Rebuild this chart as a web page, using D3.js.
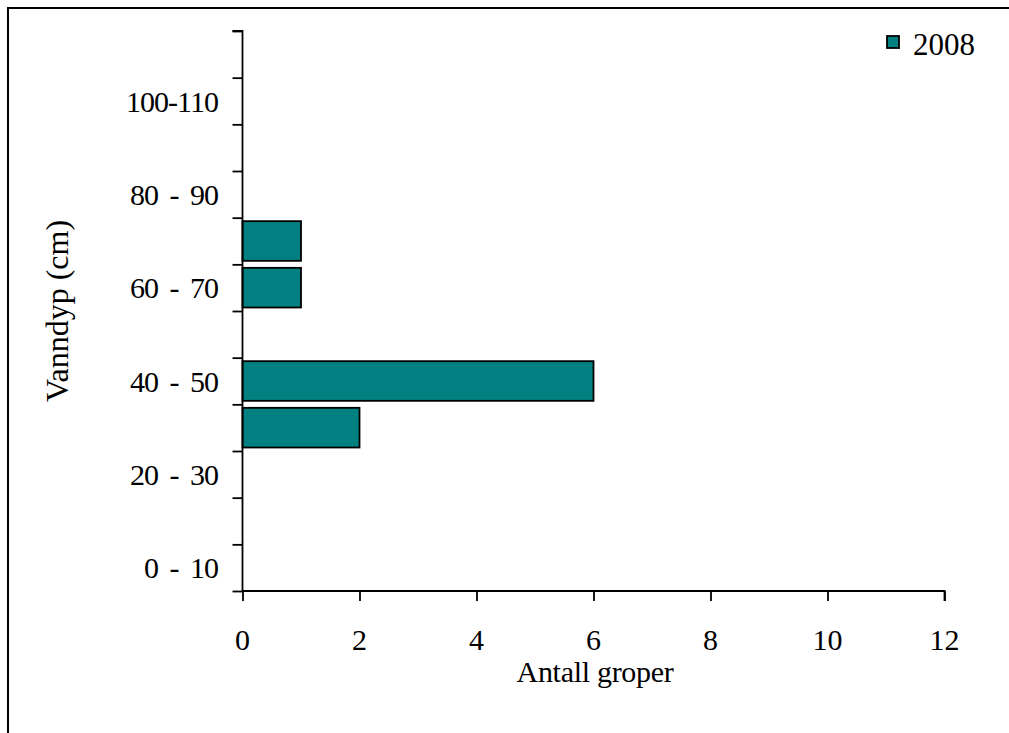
<!DOCTYPE html>
<html>
<head>
<meta charset="utf-8">
<script src="https://cdn.jsdelivr.net/npm/d3@7/dist/d3.min.js"></script>
<style>
  html, body { margin: 0; padding: 0; background: #fff; }
  svg { display: block; }
  text { font-family: "Liberation Serif", "Times New Roman", serif; fill: #000; }
</style>
</head>
<body>
<svg id="chart" width="1009" height="733"></svg>
<script>
const categories = ["0 - 10", "10 - 20", "20 - 30", "30 - 40", "40 - 50", "50 - 60",
                    "60 - 70", "70 - 80", "80 - 90", "90 - 100", "100-110", "110-120"];
const shownLabels = ["0 - 10", "20 - 30", "40 - 50", "60 - 70", "80 - 90", "100-110"];
const values2008 = [0, 0, 0, 2, 6, 0, 1, 1, 0, 0, 0, 0];
const xTicks = [0, 2, 4, 6, 8, 10, 12];
const seriesName = "2008";
const xTitle = "Antall groper";
const yTitle = "Vanndyp (cm)";

const svg = d3.select("#chart");
const pLeft = 242.5, pRight = 944.5, pTop = 31, pBottom = 591;

// outer frame
svg.append("rect").attr("x", 8).attr("y", 8).attr("width", 1020).attr("height", 740)
  .attr("fill", "none").attr("stroke", "#000").attr("stroke-width", 2);

const x = d3.scaleLinear().domain([0, 12]).range([pLeft, pRight]);
const y = d3.scaleBand().domain(categories).range([pBottom, pTop]).paddingInner(0.15).paddingOuter(0.075);

// bars
svg.append("g").selectAll("rect").data(categories.map((c, i) => ({c, v: values2008[i]})).filter(d => d.v > 0))
  .join("rect")
  .attr("x", x(0))
  .attr("y", d => y(d.c))
  .attr("width", d => x(d.v) - x(0))
  .attr("height", y.bandwidth())
  .attr("fill", "#008080")
  .attr("stroke", "#000")
  .attr("stroke-width", 1.8);

// y axis: ticks at band boundaries
const yLin = d3.scaleLinear().domain([0, categories.length]).range([pBottom, pTop]);
const yAxis = d3.axisLeft(yLin).tickValues(d3.range(0, categories.length + 1))
  .tickSize(10).tickFormat("");
const gy = svg.append("g").attr("transform", `translate(${pLeft},0)`).call(yAxis);
gy.select(".domain").attr("stroke", "#000").attr("stroke-width", 1.8).attr("d", `M-10,${pTop}H0V${pBottom}`);
gy.selectAll(".tick line").attr("stroke", "#000").attr("stroke-width", 1.8);

// y labels (every other category)
svg.append("g").selectAll("text").data(shownLabels).join("text")
  .attr("x", 218)
  .attr("y", d => y(d) + y.bandwidth() / 2)
  .attr("dy", "0.35em")
  .attr("text-anchor", "end")
  .attr("font-size", 30)
  .style("letter-spacing", "-1px")
  .style("word-spacing", "5px")
  .text(d => d);

// x axis
const xAxis = d3.axisBottom(x).tickValues(xTicks).tickSize(10).tickFormat("");
const gx = svg.append("g").attr("transform", `translate(0,${pBottom})`).call(xAxis);
gx.select(".domain").attr("stroke", "#000").attr("stroke-width", 1.8).attr("d", `M${pLeft},0H${pRight}V10`);
gx.selectAll(".tick line").attr("stroke", "#000").attr("stroke-width", 1.8);

svg.append("g").selectAll("text").data(xTicks).join("text")
  .attr("x", d => x(d))
  .attr("y", 650)
  .attr("text-anchor", "middle")
  .attr("font-size", 30)
  .text(d => d);

// axis titles
svg.append("text").attr("x", 595).attr("y", 682).attr("text-anchor", "middle")
  .attr("font-size", 30).style("letter-spacing", "-0.3px").text(xTitle);
svg.append("text").attr("transform", "translate(68,311) rotate(-90)").attr("text-anchor", "middle")
  .attr("font-size", 32).text(yTitle);

// legend
svg.append("rect").attr("x", 887).attr("y", 36).attr("width", 12).attr("height", 12)
  .attr("fill", "#008080").attr("stroke", "#000").attr("stroke-width", 1.8);
svg.append("text").attr("x", 913).attr("y", 55).attr("font-size", 31).text(seriesName);
</script>
</body>
</html>
